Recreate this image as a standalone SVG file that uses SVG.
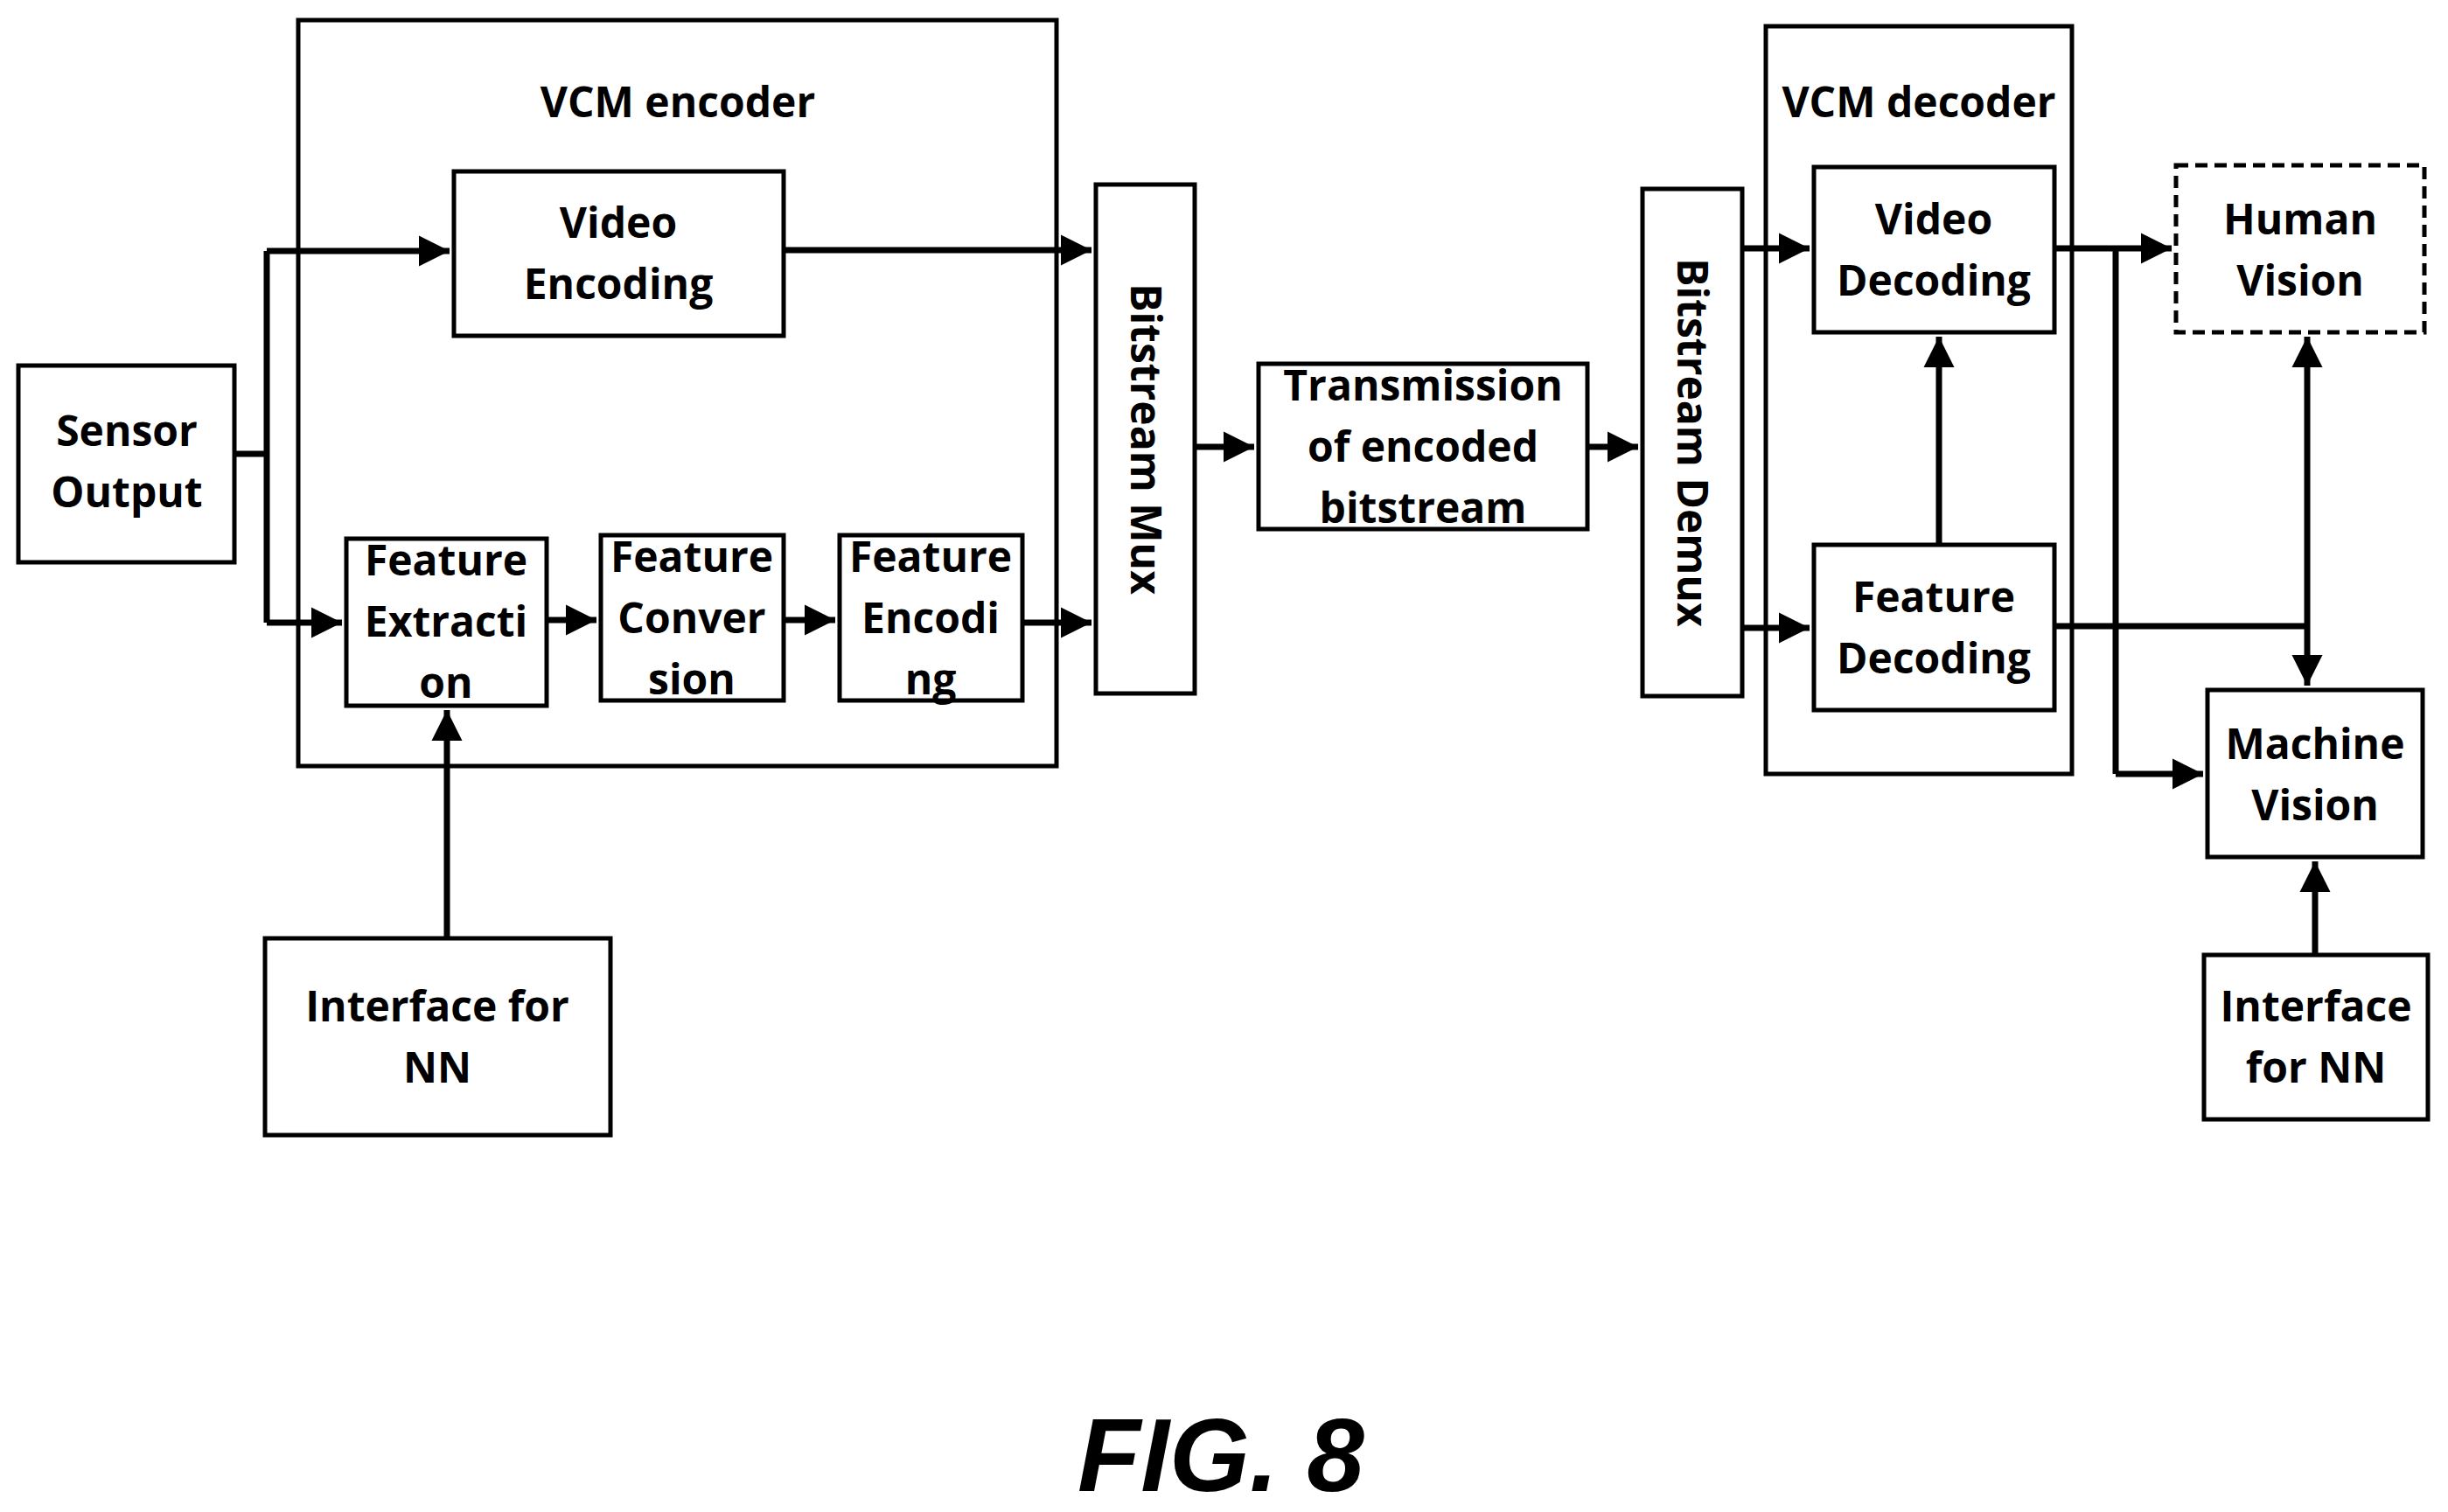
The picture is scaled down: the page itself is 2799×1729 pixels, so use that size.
<svg xmlns="http://www.w3.org/2000/svg" width="2799" height="1729" viewBox="0 0 2799 1729">
<style>
.b{fill:#fff;stroke:#000;stroke-width:5}
.d{fill:#fff;stroke:#000;stroke-width:5;stroke-dasharray:14 8}
.t{font-family:"Open Sans","Noto Sans",sans-serif;font-weight:bold;font-size:48px;text-anchor:middle;fill:#000}
.c{fill:none;stroke:#000;stroke-width:7}
.a{marker-end:url(#ah)}
</style>
<defs><marker id="ah" markerWidth="6" markerHeight="6" refX="5" refY="3" orient="auto" markerUnits="strokeWidth"><path d="M0,0.5 L5,3 L0,5.5 z" fill="#000"/></marker></defs>
<rect width="2799" height="1729" fill="#fff"/>
<g id="vcm-encoder"><rect class="b" x="341" y="23" width="867" height="853"/><text class="t" x="775" y="134">VCM encoder</text></g>
<g id="vcm-decoder"><rect class="b" x="2019" y="30" width="350" height="855"/><text class="t" x="2194" y="134">VCM decoder</text></g>
<g id="sensor"><rect class="b" x="21" y="418" width="247" height="225"/><text class="t" x="145" y="510">Sensor</text><text class="t" x="145" y="580">Output</text></g>
<g id="video-encoding"><rect class="b" x="519" y="196" width="377" height="188"/><text class="t" x="707" y="272">Video</text><text class="t" x="707" y="342">Encoding</text></g>
<g id="feature-extraction"><rect class="b" x="396" y="616" width="229" height="191"/><text class="t" x="510" y="658">Feature</text><text class="t" x="510" y="728">Extracti</text><text class="t" x="510" y="798">on</text></g>
<g id="feature-conversion"><rect class="b" x="687" y="612" width="209" height="189"/><text class="t" x="791" y="654">Feature</text><text class="t" x="791" y="724">Conver</text><text class="t" x="791" y="794">sion</text></g>
<g id="feature-encoding"><rect class="b" x="960" y="612" width="209" height="189"/><text class="t" x="1064" y="654">Feature</text><text class="t" x="1064" y="724">Encodi</text><text class="t" x="1064" y="794">ng</text></g>
<g id="mux"><rect class="b" x="1253" y="211" width="113" height="582"/><text class="t" transform="translate(1293,502) rotate(90)">Bitstream Mux</text></g>
<g id="transmission"><rect class="b" x="1439" y="416" width="376" height="189"/><text class="t" x="1627" y="458">Transmission</text><text class="t" x="1627" y="528">of encoded</text><text class="t" x="1627" y="598">bitstream</text></g>
<g id="demux"><rect class="b" x="1878" y="216" width="114" height="580"/><text class="t" transform="translate(1918,506) rotate(90)">Bitstream Demux</text></g>
<g id="video-decoding"><rect class="b" x="2074" y="191" width="275" height="189"/><text class="t" x="2211" y="268">Video</text><text class="t" x="2211" y="338">Decoding</text></g>
<g id="feature-decoding"><rect class="b" x="2074" y="623" width="275" height="189"/><text class="t" x="2211" y="700">Feature</text><text class="t" x="2211" y="770">Decoding</text></g>
<g id="human-vision"><rect class="d" x="2488" y="189" width="284" height="191"/><text class="t" x="2630" y="268">Human</text><text class="t" x="2630" y="338">Vision</text></g>
<g id="machine-vision"><rect class="b" x="2524" y="789" width="246" height="191"/><text class="t" x="2647" y="868">Machine</text><text class="t" x="2647" y="938">Vision</text></g>
<g id="interface-left"><rect class="b" x="303" y="1073" width="395" height="225"/><text class="t" x="500" y="1168">Interface for</text><text class="t" x="500" y="1238">NN</text></g>
<g id="interface-right"><rect class="b" x="2520" y="1092" width="256" height="188"/><text class="t" x="2648" y="1168">Interface</text><text class="t" x="2648" y="1238">for NN</text></g>
<g id="connectors">
<path class="c" d="M268,519 H305 M305,287 V712"/>
<path class="c a" d="M305,287 H514"/>
<path class="c a" d="M305,712 H391"/>
<path class="c a" d="M896,286 H1248"/>
<path class="c a" d="M625,709 H682"/>
<path class="c a" d="M896,709 H955"/>
<path class="c a" d="M1169,712 H1248"/>
<path class="c a" d="M511,1073 V812"/>
<path class="c a" d="M1366,511 H1434"/>
<path class="c a" d="M1815,511 H1873"/>
<path class="c a" d="M1992,284 H2069"/>
<path class="c a" d="M1992,718 H2069"/>
<path class="c a" d="M2217,623 V385"/>
<path class="c a" d="M2349,284 H2483"/>
<path class="c" d="M2419,284 V885"/>
<path class="c a" d="M2419,885 H2519"/>
<path class="c" d="M2349,716 H2638"/>
<path class="c a" d="M2638,716 V385"/>
<path class="c a" d="M2638,716 V784"/>
<path class="c a" d="M2647,1092 V985"/>
</g>
<text x="1396" y="1705" style="font-family:'Liberation Sans',Arial,sans-serif;font-weight:bold;font-style:italic;font-size:118px;text-anchor:middle">FIG. 8</text>
</svg>
